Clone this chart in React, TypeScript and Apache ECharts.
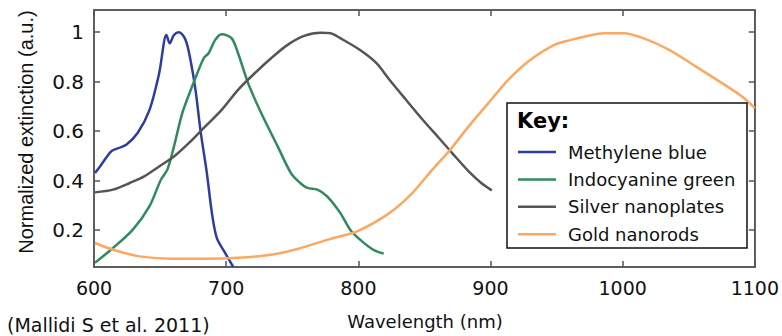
import React, { useEffect, useRef } from "react";
import * as echarts from "echarts";

const seriesNames = ["Methylene blue", "Indocyanine green", "Silver nanoplates", "Gold nanorods"];
const seriesColors = ["#2d3e9f", "#2f8a5c", "#555555", "#fba862"];

const methyleneBlue: [number, number][] = [
  [600.7, 0.43], [605, 0.46], [613, 0.518], [618, 0.53], [624.4, 0.545], [633, 0.592], [642, 0.686],
  [649.3, 0.834], [654.8, 0.989], [657.3, 0.955], [660.5, 0.989], [664.3, 1.0], [669.3, 0.969],
  [673, 0.888], [676.8, 0.767], [680.5, 0.605], [685.4, 0.43], [689.2, 0.269], [692.9, 0.168],
  [699.2, 0.107], [705.4, 0.05],
];

const indocyanineGreen: [number, number][] = [
  [600.7, 0.067], [614.4, 0.127], [629.4, 0.201], [641.9, 0.295], [650.6, 0.403], [655.5, 0.444],
  [660.5, 0.538], [666.8, 0.673], [674.2, 0.78], [683, 0.895], [686.7, 0.915], [691.7, 0.969],
  [696.6, 0.992], [704.1, 0.976], [709, 0.915], [716.6, 0.794], [726.5, 0.673], [739, 0.538],
  [749, 0.43], [756, 0.39], [761.4, 0.37], [769, 0.363], [776.4, 0.336], [786.3, 0.269],
  [793.8, 0.201], [801.3, 0.161], [811.3, 0.12], [819.2, 0.104],
];

const silverNanoplates: [number, number][] = [
  [600.7, 0.352], [614.4, 0.363], [627, 0.39], [638, 0.417], [649.3, 0.457], [660.5, 0.497],
  [671.7, 0.551], [684.2, 0.619], [696.6, 0.686], [709, 0.767], [721.6, 0.834], [734, 0.895],
  [746.5, 0.949], [759, 0.985], [771.4, 0.998], [779, 0.996], [786.3, 0.976], [801.3, 0.928],
  [813.7, 0.875], [823.7, 0.807], [836.2, 0.726], [848.7, 0.646], [861, 0.572], [871, 0.511],
  [883.5, 0.437], [893, 0.39], [901, 0.36],
];

const goldNanorods: [number, number][] = [
  [600.7, 0.147], [614.4, 0.12], [634.4, 0.093], [659.3, 0.083], [684.2, 0.083], [709, 0.087],
  [734, 0.1], [754, 0.123], [779, 0.164], [799, 0.194], [823.7, 0.269], [841, 0.35], [856, 0.444],
  [868.5, 0.518], [883.5, 0.619], [898.4, 0.713], [913.4, 0.807], [928.3, 0.881], [948.3, 0.949],
  [960.8, 0.969], [973.2, 0.985], [985.7, 0.996], [1000.6, 0.996], [1015.5, 0.976], [1035.5, 0.928],
  [1055.5, 0.861], [1075.3, 0.794], [1090.3, 0.74], [1100, 0.693],
];

const xTicks = [600, 700, 800, 900, 1000, 1100];
const yTicks = [0.2, 0.4, 0.6, 0.8, 1];

const xTitle = "Wavelength (nm)";
const yTitle = "Normalized extinction (a.u.)";
const citation = "(Mallidi S et al. 2011)";
const keyTitle = "Key:";

const FRAME = "#555555";
const HFONT = "DejaVu Sans";

export default function App() {
  const ref = useRef<HTMLDivElement>(null);

  useEffect(() => {
    if (!ref.current) return;
    const chart = echarts.init(ref.current, null, { renderer: "svg" });
    const allData = [methyleneBlue, indocyanineGreen, silverNanoplates, goldNanorods];

    const xBase = {
      type: "value" as const,
      min: 600,
      max: 1100,
      interval: 100,
      splitLine: { show: false },
      axisLine: { show: true, lineStyle: { color: FRAME, width: 1.5 } },
      axisTick: { show: true, inside: true, length: 6, lineStyle: { color: FRAME, width: 1.5 } },
    };
    const yBase = {
      type: "value" as const,
      min: 0.05,
      max: 1.09,
      splitLine: { show: false },
      axisLine: { show: true, lineStyle: { color: FRAME, width: 1.5 } },
      axisTick: {
        show: true,
        inside: true,
        length: 6,
        customValues: yTicks,
        lineStyle: { color: FRAME, width: 1.5 },
      },
    };

    chart.setOption({
      animation: false,
      backgroundColor: "#ffffff",
      grid: {
        left: 94,
        right: 19,
        top: 10,
        bottom: 69,
        show: true,
        borderColor: FRAME,
        borderWidth: 1.5,
        backgroundColor: "transparent",
      },
      xAxis: [
        {
          ...xBase,
          position: "bottom",
          axisLabel: {
            show: true,
            margin: 11,
            color: "#111",
            fontFamily: HFONT,
            fontSize: 19,
            customValues: xTicks,
            formatter: (v: number) => String(v),
          },
        },
        { ...xBase, position: "top", axisLabel: { show: false } },
      ],
      yAxis: [
        {
          ...yBase,
          position: "left",
          axisLabel: {
            show: true,
            margin: 10,
            color: "#111",
            fontFamily: HFONT,
            fontSize: 20,
            customValues: yTicks,
            formatter: (v: number) => String(v),
          },
        },
        { ...yBase, position: "right", axisLabel: { show: false } },
      ],
      legend: {
        show: true,
        orient: "vertical",
        left: 518,
        top: 143,
        padding: 0,
        icon: "rect",
        itemWidth: 38,
        itemHeight: 2.5,
        itemGap: 9.4,
        z: 6,
        selectedMode: false,
        data: seriesNames,
        textStyle: {
          fontFamily: HFONT,
          fontSize: 18,
          lineHeight: 18,
          color: "#111",
          padding: [0, 0, 0, 7],
        },
      },
      graphic: [
        {
          type: "rect",
          z: 5,
          shape: { x: 507, y: 103, width: 240, height: 145 },
          style: { fill: "#ffffff", stroke: "#111111", lineWidth: 1.5 },
        },
        {
          type: "text",
          z: 6,
          x: 517,
          y: 121,
          style: {
            text: keyTitle,
            font: `bold 21px "${HFONT}"`,
            fill: "#000",
            textAlign: "left",
            textVerticalAlign: "middle",
          },
        },
        {
          type: "text",
          x: 425,
          y: 321,
          style: {
            text: xTitle,
            font: `18px "${HFONT}"`,
            fill: "#111",
            textAlign: "center",
            textVerticalAlign: "middle",
          },
        },
        {
          type: "text",
          x: 26,
          y: 132,
          rotation: Math.PI / 2,
          style: {
            text: yTitle,
            font: `20px "Liberation Sans"`,
            fill: "#111",
            textAlign: "center",
            textVerticalAlign: "middle",
          },
        },
        {
          type: "text",
          x: 7,
          y: 325,
          style: {
            text: citation,
            font: `19px "${HFONT}"`,
            fill: "#111",
            textAlign: "left",
            textVerticalAlign: "middle",
          },
        },
      ],
      series: seriesNames.map((name, i) => ({
        name,
        type: "line",
        data: allData[i],
        symbol: "none",
        smooth: 0.3,
        clip: true,
        color: seriesColors[i],
        lineStyle: { color: seriesColors[i], width: 2.5 },
        z: 2,
      })),
    });

    return () => chart.dispose();
  }, []);

  return (
    <div
      ref={ref}
      style={{ position: "fixed", left: 0, top: 0, width: 782, height: 336, background: "#fff" }}
    />
  );
}
